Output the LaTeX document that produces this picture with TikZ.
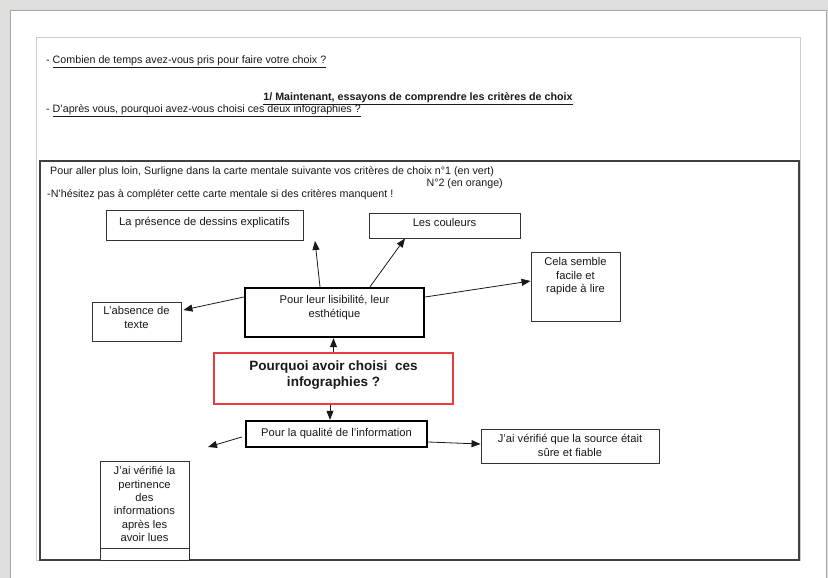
\documentclass[tikz,border=0pt]{standalone}
\usepackage{fontspec}
\setmainfont{Liberation Sans}
\usetikzlibrary{arrows.meta}
\newcommand{\tbx}[4]{\parbox[c][#2][t]{#1}{\centering\vspace*{#3}\strut #4\par}}
\definecolor{bggray}{RGB}{222,222,220}
\definecolor{framegray}{RGB}{205,205,205}
\definecolor{boxred}{RGB}{232,60,64}
\tikzset{
  txt/.style={inner sep=0pt, font=\fontsize{10.7}{13}\selectfont, text=black!90},
  mbox/.style={draw=black!80, line width=0.9pt, inner sep=0pt, fill=white, font=\fontsize{11.2}{13.3}\selectfont, text=black!90},
  tbox/.style={mbox, draw=black, line width=2.4pt},
  rbox/.style={mbox, draw=boxred, line width=2pt, font=\fontsize{13.5}{15.5}\selectfont\bfseries},
  arr/.style={draw=black!90, line width=0.8pt, -{Triangle[length=9pt,width=7pt]}}
}
\begin{document}
\begin{tikzpicture}[x=1pt,y=-1pt]
\useasboundingbox (0,0) rectangle (828,578);
% background and page
\fill[bggray] (0,0) rectangle (828,578);
\draw[gray!70, fill=white, line width=0.8pt] (10,10) rectangle (826,590);
% frames
\draw[framegray, line width=0.8pt] (36.5,37) rectangle (800,560);
\draw[black!75, line width=1.3pt] (40,161) rectangle (799,560);
% header texts
\node[txt, anchor=base west] (q1) at (46,64) {- \underline{Combien de temps avez-vous pris pour faire votre choix ?}};
\node[txt, anchor=base, font=\fontsize{10.7}{13}\selectfont\bfseries] (h1) at (418,101) {\underline{1/ Maintenant, essayons de comprendre les critères de choix}};
\node[txt, anchor=base west] (q2) at (46,113) {- \underline{D'après vous, pourquoi avez-vous choisi ces deux infographies ?}};
\node[txt, anchor=base west] (i1) at (50,174) {Pour aller plus loin, Surligne dans la carte mentale suivante vos critères de choix n°1 (en vert)};
\node[txt, anchor=base east] (i2) at (503,186) {N°2 (en orange)};
\node[txt, anchor=base west] (i3) at (47,197) {-N'hésitez pas à compléter cette carte mentale si des critères manquent !};
% boxes
\node[mbox] (pres) at (204.5,225) {\tbx{197pt}{30pt}{6pt}{La présence de dessins explicatifs}};
\node[mbox] (coul) at (444.5,225.5) {\tbx{151pt}{25pt}{4.6pt}{Les couleurs}};
\node[mbox] (cela) at (575.5,286.5) {\tbx{89pt}{69pt}{4.6pt}{Cela semble\\facile et\\rapide à lire}};
\node[mbox] (abs) at (136.5,321.5) {\tbx{89pt}{39pt}{3.6pt}{L'absence de\\texte}};
\node[tbox] (lis) at (334.5,312.5) {\tbx{179pt}{49pt}{6.6pt}{Pour leur lisibilité, leur\\esthétique}};
\node[rbox] (main) at (333.5,378.5) {\tbx{239pt}{51pt}{6.9pt}{Pourquoi avoir choisi \ ces\\infographies ?}};
\node[tbox] (qual) at (336.5,434) {\tbx{181pt}{26pt}{6.6pt}{Pour la qualité de l'information}};
\node[mbox] (src) at (570,446) {\tbx{178pt}{34pt}{4.6pt}{J'ai vérifié que la source était\\sûre et fiable}};
\node[mbox] (pert) at (144.5,510.5) {\tbx{89pt}{99pt}{4.6pt}{J'ai vérifié la\\pertinence\\des\\informations\\après les\\avoir lues}};
\draw[black!80, line width=0.9pt] ([yshift=-37.5pt]pert.west) -- ([yshift=-37.5pt]pert.east);
% free arrow ends
\coordinate (e1) at (315,241);
\coordinate (e2) at (208,447);
% connectors
\draw[arr] ([xshift=-14.5pt]lis.north) -- (e1);
\draw[arr] ([xshift=35.5pt]lis.north) -- ([xshift=-39.5pt]coul.south);
\draw[arr] ([yshift=15.5pt]lis.east) -- ([yshift=5.5pt]cela.west);
\draw[arr] ([yshift=15.5pt]lis.west) -- ([xshift=2pt,yshift=11.5pt]abs.east);
\draw[arr] (main.north) -- (main.north |- lis.south);
\draw[arr] ([xshift=-3.5pt]main.south) -- ([xshift=-3.5pt]main.south |- qual.north);
\draw[arr] ([xshift=-3pt,yshift=-3pt]qual.west) -- (e2);
\draw[arr] ([yshift=-8pt]qual.east) -- ([yshift=2pt]src.west);
\end{tikzpicture}
\end{document}
